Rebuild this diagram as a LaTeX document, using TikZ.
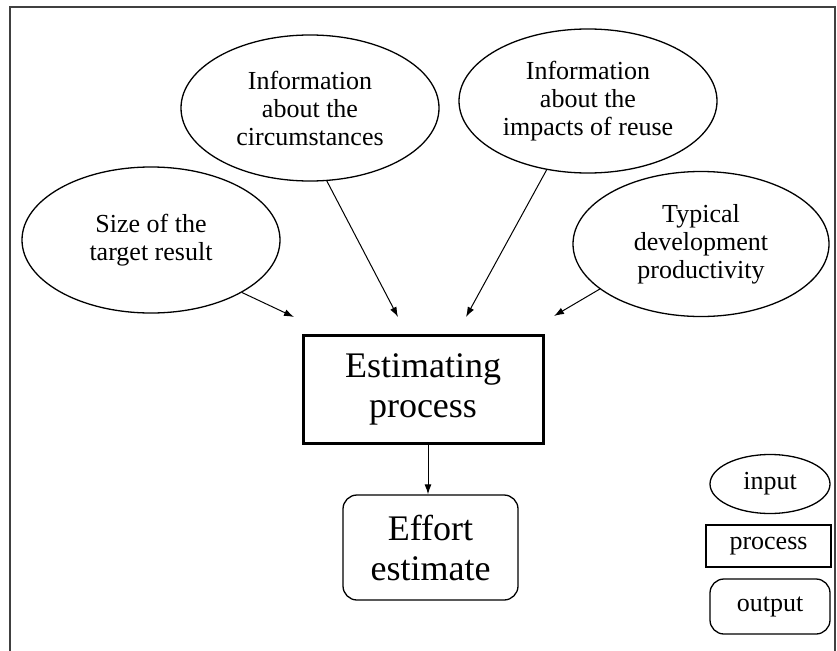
\documentclass[tikz,border=0pt]{standalone}
\usepackage{fontspec}
\setmainfont{Liberation Serif}
\usetikzlibrary{shapes.geometric,arrows.meta,calc}

\tikzset{
  smalltext/.style={font=\fontsize{26}{28}\selectfont, align=center},
  bigtext/.style={font=\fontsize{36}{40}\selectfont, align=center},
  inputnode/.style={ellipse, draw, line width=1.3pt, smalltext, inner sep=0pt},
  processnode/.style={rectangle, draw, inner sep=0pt},
  outputnode/.style={rectangle, rounded corners=14pt, draw, line width=1.3pt, inner sep=0pt},
  flow/.style={line width=1pt, -{Latex[length=10pt,width=7pt]}}
}

\begin{document}
\begin{tikzpicture}[x=1pt, y=-1pt]
  \useasboundingbox (0,0) rectangle (837,650);

  % outer frame
  \draw[line width=2.5pt, black!75] (10,655) -- (10,7) -- (835,7) -- (835,655);

  % inputs
  \node[inputnode, minimum width=258pt, minimum height=146pt] (size) at (151,240)
    {Size of the\\target result};
  \node[inputnode, minimum width=258pt, minimum height=146pt] (circ) at (310,108)
    {Information\\about the\\circumstances};
  \node[inputnode, minimum width=258pt, minimum height=144pt] (reuse) at (588,101)
    {Information\\about the\\impacts of reuse};
  \node[inputnode, minimum width=256pt, minimum height=145pt] (typ) at (701,244)
    {Typical\\development\\productivity};

  % process and output
  \node[processnode, line width=3pt, bigtext, minimum width=240pt, minimum height=108pt]
    (est) at (423,389) {Estimating\\process};
  \node[outputnode, bigtext, minimum width=175pt, minimum height=105pt]
    (eff) at (430.5,547.5) {Effort\\estimate};

  % arrow ends above the process box
  \coordinate (t1) at (294,317);
  \coordinate (t2) at (398,317);
  \coordinate (t3) at (466,317);
  \coordinate (t4) at (554,316);

  \draw[flow] (size.-30) -- (t1);
  \draw[flow] (circ.-77) -- (t2);
  \draw[flow] (reuse.-121) -- (t3);
  \draw[flow] (typ.-156) -- (t4);
  \draw[flow] ([xshift=5pt]est.south) -- ([xshift=5pt]est.south |- eff.north);

  % legend
  \node[inputnode, minimum width=120pt, minimum height=59pt] (leg-in) at (770,484) {input};
  \node[processnode, line width=1.5pt, smalltext, minimum width=125pt, minimum height=42pt]
    (leg-proc) at (768.5,546) {process};
  \node[outputnode, smalltext, minimum width=120pt, minimum height=55pt]
    (leg-out) at (770,606.5) {output};
\end{tikzpicture}
\end{document}
